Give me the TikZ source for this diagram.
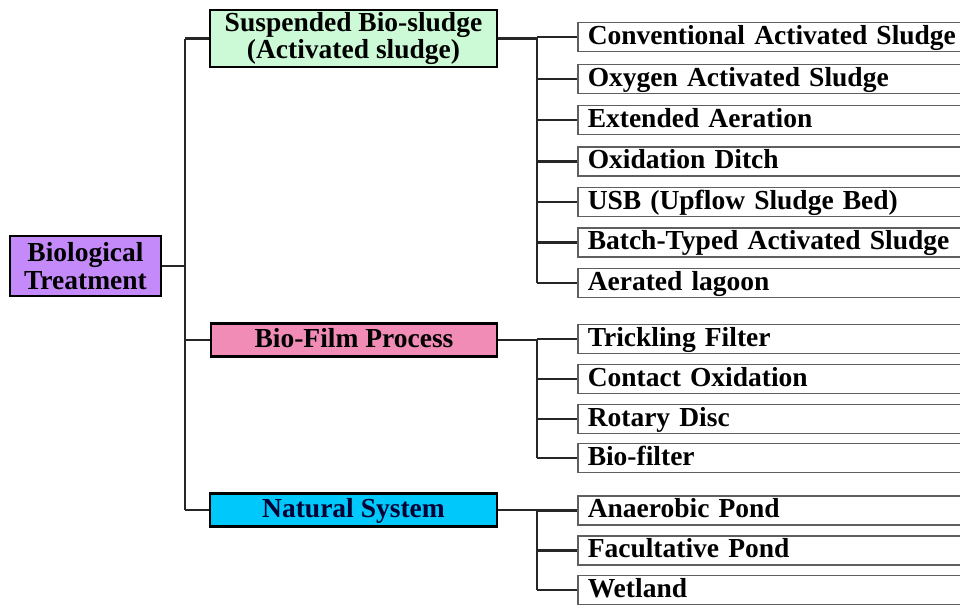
\documentclass[tikz,border=0pt]{standalone}
\usepackage{fontspec}
\setmainfont{Liberation Serif}
\definecolor{rootpurple}{RGB}{196,138,250}
\definecolor{susgreen}{RGB}{204,250,214}
\definecolor{filmpink}{RGB}{240,140,182}
\definecolor{natcyan}{RGB}{0,200,250}
\definecolor{leafline}{RGB}{95,95,95}
\tikzset{
  textfont/.style={font=\bfseries\fontsize{27.5}{27.5}\selectfont},
  mainbox/.style={textfont, draw=black, line width=2.5pt, inner sep=0pt, align=center},
  leaf/.style={textfont, draw=leafline, line width=1.5pt, fill=white, anchor=west,
    minimum width=420pt, minimum height=29pt, text height=20pt, text depth=6pt,
    inner xsep=4pt, inner ysep=0pt, text width=400pt, align=left},
  link/.style={line width=2.3pt, draw=black!85}
}
\begin{document}
\begin{tikzpicture}[x=1pt,y=-1pt]
\useasboundingbox (0,0) rectangle (960,606);
\fill[white] (0,0) rectangle (960,606);
\clip (0,0) rectangle (960,606);

% trunk and bracket columns
\coordinate (trunk) at (185,0);
\coordinate (bx) at (537,0);

% root and the three branches
\node[mainbox, fill=rootpurple, minimum width=151pt, minimum height=60pt] (bio) at (85.5,266)
  {Biological\\Treatment};
\node[mainbox, fill=susgreen, minimum width=287pt, minimum height=57pt] (sus) at (353.5,38.5)
  {Suspended Bio-sludge\\(Activated sludge)};
\node[mainbox, fill=filmpink, minimum width=286pt, minimum height=33pt, text height=20pt, text depth=6pt] (film) at (354,340)
  {Bio-Film Process};
\node[mainbox, fill=natcyan, minimum width=287pt, minimum height=33pt, text height=20pt, text depth=6pt, text=black!80!blue] (nat) at (353.5,510)
  {Natural System};

% leaves of the suspended branch
\node[leaf] (s1) at (577,37) {Conventional Activated Sludge};
\node[leaf] (s2) at (577,79) {Oxygen Activated Sludge};
\node[leaf] (s3) at (577,120) {Extended Aeration};
\node[leaf] (s4) at (577,161.5) {Oxidation Ditch};
\node[leaf] (s5) at (577,202) {USB (Upflow Sludge Bed)};
\node[leaf] (s6) at (577,242.5) {Batch-Typed Activated Sludge};
\node[leaf] (s7) at (577,283) {Aerated lagoon};

% leaves of the bio-film branch
\node[leaf] (f1) at (577,339) {Trickling Filter};
\node[leaf] (f2) at (577,379) {Contact Oxidation};
\node[leaf] (f3) at (577,419) {Rotary Disc};
\node[leaf] (f4) at (577,458) {Bio-filter};

% leaves of the natural branch
\node[leaf] (n1) at (577,510.5) {Anaerobic Pond};
\node[leaf] (n2) at (577,550.5) {Facultative Pond};
\node[leaf] (n3) at (577,590) {Wetland};

% root to branches
\draw[link] (bio.east) -- (bio.east -| trunk);
\draw[link] (trunk |- sus.west) -- (trunk |- nat.west);
\foreach \b in {sus,film,nat} \draw[link] (trunk |- \b.west) -- (\b.west);

% branches to leaves
\draw[link] (sus.east) -- (sus.east -| bx);
\draw[link] (bx |- s1.west) -- (bx |- s7.west);
\foreach \l in {s1,s2,s3,s4,s5,s6,s7} \draw[link] (bx |- \l.west) -- (\l.west);

\draw[link] (film.east) -- (film.east -| bx);
\draw[link] (bx |- f1.west) -- (bx |- f4.west);
\foreach \l in {f1,f2,f3,f4} \draw[link] (bx |- \l.west) -- (\l.west);

\draw[link] (nat.east) -- (nat.east -| bx);
\draw[link] (bx |- n1.west) -- (bx |- n3.west);
\foreach \l in {n1,n2,n3} \draw[link] (bx |- \l.west) -- (\l.west);
\end{tikzpicture}
\end{document}
